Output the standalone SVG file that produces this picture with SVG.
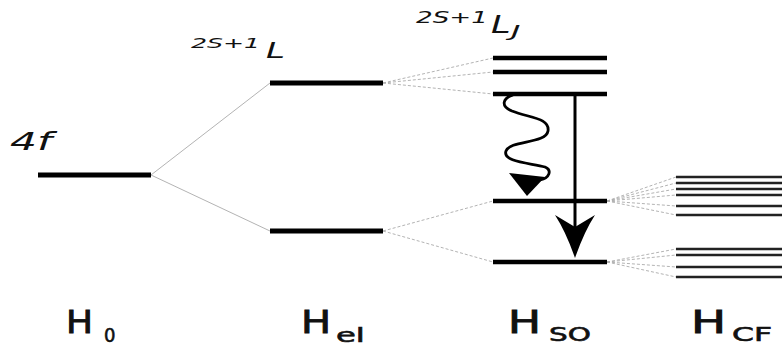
<svg xmlns="http://www.w3.org/2000/svg" width="782" height="346" viewBox="0 0 782 346">
<style>
.lvl{stroke:#000;stroke-width:5;fill:none}
.lvs{stroke:#000;stroke-width:4.5;fill:none}
.cf{stroke:#222;stroke-width:2.5;fill:none}
.ln{stroke:#aaa;stroke-width:0.9;fill:none}
.dl{stroke:#aaa;stroke-width:0.9;fill:none;stroke-dasharray:3 2}
.t{font-family:"DejaVu Sans",Verdana,sans-serif;fill:#111}
.it{font-style:italic}
.big{font-size:31.5px;stroke:#111;stroke-width:0.9}
.sub{font-size:19px;stroke:#111;stroke-width:0.6}
</style>
<rect width="782" height="346" fill="#fff"/>
<g id="connectors">
<line class="ln" x1="151" y1="175" x2="270" y2="83"/>
<line class="ln" x1="151" y1="175" x2="270" y2="231"/>
<line class="dl" x1="383" y1="83" x2="493" y2="58"/>
<line class="dl" x1="383" y1="83" x2="493" y2="72"/>
<line class="dl" x1="383" y1="83" x2="493" y2="94"/>
<line class="dl" x1="383" y1="231" x2="493" y2="201"/>
<line class="dl" x1="383" y1="231" x2="493" y2="262"/>
<line class="dl" x1="607" y1="201" x2="676" y2="177"/>
<line class="dl" x1="607" y1="201" x2="676" y2="183"/>
<line class="dl" x1="607" y1="201" x2="676" y2="189"/>
<line class="dl" x1="607" y1="201" x2="676" y2="195"/>
<line class="dl" x1="607" y1="201" x2="676" y2="206"/>
<line class="dl" x1="607" y1="201" x2="676" y2="215"/>
<line class="dl" x1="607" y1="262" x2="676" y2="249"/>
<line class="dl" x1="607" y1="262" x2="676" y2="255"/>
<line class="dl" x1="607" y1="262" x2="676" y2="267"/>
<line class="dl" x1="607" y1="262" x2="676" y2="277"/>
</g>
<g id="H0">
<line class="lvl" x1="38" y1="175" x2="151" y2="175"/>
<text class="t it" font-size="25" transform="translate(10,150) scale(1.7,1)">4f</text>
<text class="t big" transform="translate(66,333) scale(1.14,1)">H</text>
<text class="t sub" transform="translate(104,342) scale(0.95,1)">0</text>
</g>
<g id="Hel">
<line class="lvl" x1="270" y1="83" x2="383" y2="83"/>
<line class="lvl" x1="270" y1="231" x2="383" y2="231"/>
<text class="t it" font-size="14" transform="translate(191,48) scale(1.8,1)">2S+1</text>
<text class="t it" font-size="22" transform="translate(266,58) scale(1.55,1)">L</text>
<text class="t big" transform="translate(301,333) scale(1.27,1)">H</text>
<text class="t sub" transform="translate(336,342) scale(1.7,1)">el</text>
</g>
<g id="HSO">
<line class="lvs" x1="493" y1="58" x2="607" y2="58"/>
<line class="lvs" x1="493" y1="72" x2="607" y2="72"/>
<line class="lvs" x1="493" y1="94" x2="607" y2="94"/>
<line class="lvs" x1="493" y1="201" x2="607" y2="201"/>
<line class="lvs" x1="493" y1="262" x2="607" y2="262"/>
<text class="t it" font-size="15" transform="translate(416,23) scale(1.75,1)">2S+1</text>
<text class="t it" font-size="24" transform="translate(491,33) scale(1.47,1)">L</text>
<text class="t it" font-size="16" transform="translate(511,37) scale(2,1)">J</text>
<text class="t big" transform="translate(508,333) scale(1.39,1)">H</text>
<text class="t sub" transform="translate(549,341) scale(1.55,1)">SO</text>
</g>
<g id="HCF">
<line class="cf" x1="676" y1="177" x2="782" y2="177"/>
<line class="cf" x1="676" y1="183" x2="782" y2="183"/>
<line class="cf" x1="676" y1="189" x2="782" y2="189"/>
<line class="cf" x1="676" y1="195" x2="782" y2="195"/>
<line class="cf" x1="676" y1="206" x2="782" y2="206"/>
<line class="cf" x1="676" y1="215" x2="782" y2="215"/>
<line class="cf" x1="676" y1="249" x2="782" y2="249"/>
<line class="cf" x1="676" y1="255" x2="782" y2="255"/>
<line class="cf" x1="676" y1="267" x2="782" y2="267"/>
<line class="cf" x1="676" y1="277" x2="782" y2="277"/>
<text class="t big" transform="translate(691,333) scale(1.48,1)">H</text>
<text class="t sub" transform="translate(732,341) scale(1.65,1)">CF</text>
</g>
<g id="arrows">
<path d="M513,95 C503,98 500,106 512,111 C530,118 550,118 548,131 C546,144 510,140 506,151 C502,162 530,163 545,167 C552,170 550,178 540,180" fill="none" stroke="#000" stroke-width="2.8"/>
<polygon points="509,173 545,177 527,196" fill="#000"/>
<line x1="575" y1="94" x2="575" y2="230" stroke="#000" stroke-width="3"/>
<path d="M555,215 L575,227 L595,215 Q584,232 575,258 Q566,232 555,215 Z" fill="#000"/>
</g>
</svg>
